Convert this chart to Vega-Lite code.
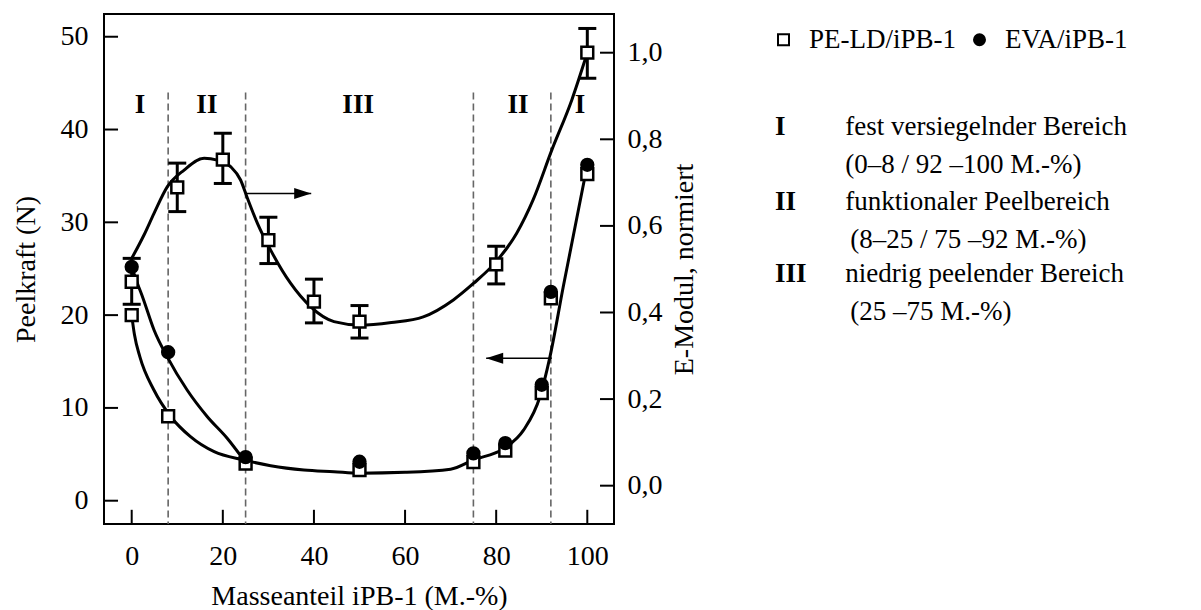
{
  "$schema": "https://vega.github.io/schema/vega-lite/v6.json",
  "width": 510,
  "height": 510,
  "autosize": {"type": "none"},
  "padding": {"left": 104, "top": 14, "right": 587, "bottom": 86},
  "background": "white",
  "datasets": {
    "emod": [
      {"x": 0, "v": 0.471, "lo": 0.419, "hi": 0.525},
      {"x": 10, "v": 0.689, "lo": 0.633, "hi": 0.745},
      {"x": 20, "v": 0.753, "lo": 0.698, "hi": 0.814},
      {"x": 30, "v": 0.567, "lo": 0.513, "hi": 0.62},
      {"x": 40, "v": 0.425, "lo": 0.376, "hi": 0.477},
      {"x": 50, "v": 0.379, "lo": 0.341, "hi": 0.416},
      {"x": 80, "v": 0.511, "lo": 0.466, "hi": 0.553},
      {"x": 100, "v": 1.0, "lo": 0.941, "hi": 1.056}
    ],
    "emodFit": [
      {"x": 0, "v": 0.525}, {"x": 2.7, "v": 0.579}, {"x": 4.9, "v": 0.629}, {"x": 7.8, "v": 0.69},
      {"x": 11.5, "v": 0.729}, {"x": 15.9, "v": 0.756}, {"x": 18.8, "v": 0.752}, {"x": 21.7, "v": 0.737},
      {"x": 23.9, "v": 0.706}, {"x": 25.4, "v": 0.664}, {"x": 27.6, "v": 0.606}, {"x": 30.5, "v": 0.544},
      {"x": 34.9, "v": 0.467}, {"x": 39.3, "v": 0.413}, {"x": 44.4, "v": 0.379}, {"x": 50.1, "v": 0.371},
      {"x": 57, "v": 0.377}, {"x": 64, "v": 0.39}, {"x": 70.6, "v": 0.429}, {"x": 75, "v": 0.467},
      {"x": 79.7, "v": 0.514}, {"x": 84.5, "v": 0.583}, {"x": 88.1, "v": 0.66}, {"x": 92.2, "v": 0.775},
      {"x": 96.6, "v": 0.891}, {"x": 100, "v": 1.0}
    ],
    "peel": [
      {"x": 0, "v": 20.0, "series": "PE-LD/iPB-1"},
      {"x": 8, "v": 9.1, "series": "PE-LD/iPB-1"},
      {"x": 25, "v": 4.0, "series": "PE-LD/iPB-1"},
      {"x": 50, "v": 3.3, "series": "PE-LD/iPB-1"},
      {"x": 75, "v": 4.15, "series": "PE-LD/iPB-1"},
      {"x": 82, "v": 5.4, "series": "PE-LD/iPB-1"},
      {"x": 90, "v": 11.6, "series": "PE-LD/iPB-1"},
      {"x": 92, "v": 21.8, "series": "PE-LD/iPB-1"},
      {"x": 100, "v": 35.2, "series": "PE-LD/iPB-1"},
      {"x": 0, "v": 25.2, "series": "EVA/iPB-1"},
      {"x": 8, "v": 16.0, "series": "EVA/iPB-1"},
      {"x": 25, "v": 4.7, "series": "EVA/iPB-1"},
      {"x": 50, "v": 4.2, "series": "EVA/iPB-1"},
      {"x": 75, "v": 5.1, "series": "EVA/iPB-1"},
      {"x": 82, "v": 6.2, "series": "EVA/iPB-1"},
      {"x": 90, "v": 12.5, "series": "EVA/iPB-1"},
      {"x": 92, "v": 22.5, "series": "EVA/iPB-1"},
      {"x": 100, "v": 36.2, "series": "EVA/iPB-1"}
    ],
    "peelFit": [
      {"x": 0, "v": 20.0, "curve": "PE"}, {"x": 0.6, "v": 17.9, "curve": "PE"}, {"x": 1.8, "v": 15.5, "curve": "PE"},
      {"x": 4.9, "v": 11.9, "curve": "PE"}, {"x": 8.6, "v": 9.05, "curve": "PE"}, {"x": 12.9, "v": 6.9, "curve": "PE"},
      {"x": 18.1, "v": 5.28, "curve": "PE"}, {"x": 24.6, "v": 4.39, "curve": "PE"}, {"x": 30.5, "v": 3.77, "curve": "PE"},
      {"x": 37.8, "v": 3.31, "curve": "PE"}, {"x": 44.4, "v": 3.13, "curve": "PE"}, {"x": 50, "v": 2.97, "curve": "PE"},
      {"x": 60, "v": 3.06, "curve": "PE"}, {"x": 70, "v": 3.4, "curve": "PE"}, {"x": 75, "v": 4.4, "curve": "PE"},
      {"x": 81.6, "v": 5.6, "curve": "PE"}, {"x": 86, "v": 7.6, "curve": "PE"}, {"x": 89.6, "v": 11.2, "curve": "PE"},
      {"x": 91.8, "v": 15.5, "curve": "PE"}, {"x": 94.7, "v": 23.0, "curve": "PE"}, {"x": 100, "v": 36.2, "curve": "PE"},
      {"x": 0, "v": 25.2, "curve": "EVA"}, {"x": 1.2, "v": 23.5, "curve": "EVA"}, {"x": 2.5, "v": 21.8, "curve": "EVA"},
      {"x": 4.9, "v": 18.4, "curve": "EVA"}, {"x": 7.8, "v": 15.5, "curve": "EVA"}, {"x": 12.2, "v": 11.9, "curve": "EVA"},
      {"x": 16.6, "v": 9.05, "curve": "EVA"}, {"x": 21, "v": 6.7, "curve": "EVA"}, {"x": 24.6, "v": 4.39, "curve": "EVA"}
    ],
    "regions": [
      {"x": 8, "top": 44}, {"x": 25, "top": 44}, {"x": 75, "top": 44}, {"x": 92, "top": 44}
    ],
    "romans": [
      {"x": 1.8, "y": 41.75, "label": "I"},
      {"x": 16.5, "y": 41.75, "label": "II"},
      {"x": 49.7, "y": 41.75, "label": "III"},
      {"x": 84.8, "y": 41.75, "label": "II"},
      {"x": 98.4, "y": 41.75, "label": "I"}
    ],
    "arrows": [
      {"x1": 25, "x2": 39.4, "y": 33.1, "dir": "right"},
      {"x1": 92.2, "x2": 77.8, "y": 15.35, "dir": "left"}
    ],
    "noteNums": [
      {"x": 141.2, "y": 39.41, "t": "I"},
      {"x": 141.2, "y": 31.33, "t": "II"},
      {"x": 141.2, "y": 23.6, "t": "III"}
    ],
    "noteTexts": [
      {"x": 156.6, "y": 39.41, "t": "fest versiegelnder Bereich"},
      {"x": 156.6, "y": 35.28, "t": "(0–8 / 92 –100 M.-%)"},
      {"x": 156.6, "y": 31.33, "t": "funktionaler Peelbereich"},
      {"x": 157.7, "y": 27.2, "t": "(8–25 / 75 –92 M.-%)"},
      {"x": 156.6, "y": 23.6, "t": "niedrig peelender Bereich"},
      {"x": 157.7, "y": 19.47, "t": "(25 –75 M.-%)"}
    ],
    "xTicks": [{"v": 0}, {"v": 20}, {"v": 40}, {"v": 60}, {"v": 80}, {"v": 100}],
    "peelTicks": [{"v": 0}, {"v": 10}, {"v": 20}, {"v": 30}, {"v": 40}, {"v": 50}],
    "emodTicks": [{"v": 0}, {"v": 0.2}, {"v": 0.4}, {"v": 0.6}, {"v": 0.8}, {"v": 1.0}]
  },
  "layer": [
    {
      "layer": [
        {
          "data": {"name": "regions"},
          "mark": {"type": "rule", "color": "#666666", "strokeWidth": 1.6, "strokeDash": [7, 4]},
          "encoding": {
            "x": {"field": "x", "type": "quantitative", "title": "Masseanteil iPB-1 (M.-%)",
                  "scale": {"domain": [-6.08, 105.86], "nice": false, "zero": false},
                  "axis": {"values": [0, 20, 40, 60, 80, 100], "labelPadding": 18, "titlePadding": 12}},
            "y": {"field": "top", "type": "quantitative", "title": "Peelkraft (N)",
                  "scale": {"domain": [-2.51, 52.45], "nice": false, "zero": false},
                  "axis": {"orient": "left", "values": [0, 10, 20, 30, 40, 50], "labelPadding": 16, "titlePadding": 20}},
            "y2": {"datum": -2.51}
          }
        },
        {
          "data": {"name": "xTicks"},
          "mark": {"type": "rule", "color": "black", "strokeWidth": 2},
          "encoding": {
            "x": {"field": "v", "type": "quantitative", "title": "Masseanteil iPB-1 (M.-%)"},
            "y": {"datum": -2.51, "type": "quantitative", "title": "Peelkraft (N)"},
            "y2": {"datum": -0.98}
          }
        },
        {
          "data": {"name": "peelTicks"},
          "mark": {"type": "rule", "color": "black", "strokeWidth": 2},
          "encoding": {
            "x": {"datum": -6.08, "type": "quantitative", "title": "Masseanteil iPB-1 (M.-%)"},
            "x2": {"datum": -3.0},
            "y": {"field": "v", "type": "quantitative", "title": "Peelkraft (N)"}
          }
        },
        {
          "data": {"name": "romans"},
          "mark": {"type": "text", "font": "Liberation Serif", "fontSize": 27, "fontWeight": "bold", "align": "center", "baseline": "alphabetic", "color": "black"},
          "encoding": {
            "x": {"field": "x", "type": "quantitative", "title": "Masseanteil iPB-1 (M.-%)"},
            "y": {"field": "y", "type": "quantitative", "title": "Peelkraft (N)"},
            "text": {"field": "label"}
          }
        },
        {
          "data": {"name": "peelFit"},
          "mark": {"type": "line", "interpolate": "monotone", "color": "black", "strokeWidth": 3},
          "encoding": {
            "x": {"field": "x", "type": "quantitative", "title": "Masseanteil iPB-1 (M.-%)"},
            "y": {"field": "v", "type": "quantitative", "title": "Peelkraft (N)"},
            "detail": {"field": "curve"}
          }
        },
        {
          "data": {"name": "arrows"},
          "mark": {"type": "rule", "color": "black", "strokeWidth": 1.6},
          "encoding": {
            "x": {"field": "x1", "type": "quantitative", "title": "Masseanteil iPB-1 (M.-%)"},
            "x2": {"field": "x2"},
            "y": {"field": "y", "type": "quantitative", "title": "Peelkraft (N)"}
          }
        },
        {
          "data": {"name": "arrows"},
          "transform": [{"filter": "datum.dir == 'right'"}],
          "mark": {"type": "point", "shape": "M-2,-0.65L0,0L-2,0.65Z", "size": 289, "filled": true, "color": "black", "opacity": 1},
          "encoding": {
            "x": {"field": "x2", "type": "quantitative", "title": "Masseanteil iPB-1 (M.-%)"},
            "y": {"field": "y", "type": "quantitative", "title": "Peelkraft (N)"}
          }
        },
        {
          "data": {"name": "arrows"},
          "transform": [{"filter": "datum.dir == 'left'"}],
          "mark": {"type": "point", "shape": "M2,-0.65L0,0L2,0.65Z", "size": 289, "filled": true, "color": "black", "opacity": 1},
          "encoding": {
            "x": {"field": "x2", "type": "quantitative", "title": "Masseanteil iPB-1 (M.-%)"},
            "y": {"field": "y", "type": "quantitative", "title": "Peelkraft (N)"}
          }
        },
        {
          "data": {"name": "peel"},
          "mark": {"type": "point", "filled": true, "stroke": "black", "strokeWidth": 2.5, "size": 140, "opacity": 1},
          "encoding": {
            "x": {"field": "x", "type": "quantitative", "title": "Masseanteil iPB-1 (M.-%)"},
            "y": {"field": "v", "type": "quantitative", "title": "Peelkraft (N)"},
            "shape": {"field": "series", "type": "nominal",
                      "scale": {"domain": ["PE-LD/iPB-1", "EVA/iPB-1"], "range": ["square", "circle"]},
                      "legend": {
                        "title": null,
                        "encode": {
                          "symbols": {
                            "update": {
                              "fill": {"signal": "datum.value == 'EVA/iPB-1' ? 'black' : 'white'"},
                              "stroke": {"value": "black"},
                              "strokeWidth": {"value": 2},
                              "size": {"signal": "datum.value == 'EVA/iPB-1' ? 65 : 121"},
                              "opacity": {"value": 1}
                            }
                          }
                        }
                      }},
            "fill": {"field": "series", "type": "nominal",
                     "scale": {"domain": ["PE-LD/iPB-1", "EVA/iPB-1"], "range": ["white", "black"]},
                     "legend": null}
          }
        },
        {
          "data": {"name": "noteNums"},
          "mark": {"type": "text", "font": "Liberation Serif", "fontSize": 27, "fontWeight": "bold", "align": "left", "baseline": "alphabetic", "color": "black"},
          "encoding": {
            "x": {"field": "x", "type": "quantitative", "title": "Masseanteil iPB-1 (M.-%)"},
            "y": {"field": "y", "type": "quantitative", "title": "Peelkraft (N)"},
            "text": {"field": "t"}
          }
        },
        {
          "data": {"name": "noteTexts"},
          "mark": {"type": "text", "font": "Liberation Serif", "fontSize": 27, "align": "left", "baseline": "alphabetic", "color": "black"},
          "encoding": {
            "x": {"field": "x", "type": "quantitative", "title": "Masseanteil iPB-1 (M.-%)"},
            "y": {"field": "y", "type": "quantitative", "title": "Peelkraft (N)"},
            "text": {"field": "t"}
          }
        }
      ]
    },
    {
      "layer": [
        {
          "data": {"name": "emodFit"},
          "mark": {"type": "line", "interpolate": "monotone", "color": "black", "strokeWidth": 3},
          "encoding": {
            "x": {"field": "x", "type": "quantitative", "title": "Masseanteil iPB-1 (M.-%)"},
            "y": {"field": "v", "type": "quantitative", "title": "E-Modul, normiert",
                  "scale": {"domain": [-0.0885, 1.0894], "nice": false, "zero": false},
                  "axis": {"orient": "right", "values": [0, 0.2, 0.4, 0.6, 0.8, 1.0],
                           "labelExpr": "replace(format(datum.value, '.1f'), '.', ',')",
                           "labelPadding": 13, "titlePadding": 8, "titleAngle": 270, "titleBaseline": "top"}}
          }
        },
        {
          "data": {"name": "emodTicks"},
          "mark": {"type": "rule", "color": "black", "strokeWidth": 2},
          "encoding": {
            "x": {"datum": 102.79, "type": "quantitative", "title": "Masseanteil iPB-1 (M.-%)"},
            "x2": {"datum": 105.86},
            "y": {"field": "v", "type": "quantitative", "title": "E-Modul, normiert"}
          }
        },
        {
          "data": {"name": "emod"},
          "mark": {"type": "rule", "color": "black", "strokeWidth": 3},
          "encoding": {
            "x": {"field": "x", "type": "quantitative", "title": "Masseanteil iPB-1 (M.-%)"},
            "y": {"field": "lo", "type": "quantitative", "title": "E-Modul, normiert"},
            "y2": {"field": "hi"}
          }
        },
        {
          "data": {"name": "emod"},
          "mark": {"type": "tick", "orient": "horizontal", "size": 18, "thickness": 3, "color": "black", "opacity": 1},
          "encoding": {
            "x": {"field": "x", "type": "quantitative", "title": "Masseanteil iPB-1 (M.-%)"},
            "y": {"field": "lo", "type": "quantitative", "title": "E-Modul, normiert"}
          }
        },
        {
          "data": {"name": "emod"},
          "mark": {"type": "tick", "orient": "horizontal", "size": 18, "thickness": 3, "color": "black", "opacity": 1},
          "encoding": {
            "x": {"field": "x", "type": "quantitative", "title": "Masseanteil iPB-1 (M.-%)"},
            "y": {"field": "hi", "type": "quantitative", "title": "E-Modul, normiert"}
          }
        },
        {
          "data": {"name": "emod"},
          "mark": {"type": "point", "shape": "square", "filled": true, "fill": "white", "stroke": "black", "strokeWidth": 2.5, "size": 140, "opacity": 1},
          "encoding": {
            "x": {"field": "x", "type": "quantitative", "title": "Masseanteil iPB-1 (M.-%)"},
            "y": {"field": "v", "type": "quantitative", "title": "E-Modul, normiert"}
          }
        }
      ]
    }
  ],
  "resolve": {"scale": {"y": "independent"}},
  "config": {
    "view": {"stroke": "black", "strokeWidth": 2},
    "axis": {
      "domain": false, "grid": false, "ticks": false,
      "labelFont": "Liberation Serif", "labelFontSize": 28, "labelColor": "black", "labelFlush": false,
      "titleFont": "Liberation Serif", "titleFontSize": 28, "titleFontWeight": "normal", "titleColor": "black"
    },
    "legend": {
      "orient": "none", "legendX": 666, "legendY": 12, "direction": "horizontal",
      "labelFont": "Liberation Serif", "labelFontSize": 27, "labelColor": "black",
      "symbolSize": 121, "symbolStrokeWidth": 2,
      "labelOffset": 12, "columnPadding": 9, "padding": 0
    }
  }
}
